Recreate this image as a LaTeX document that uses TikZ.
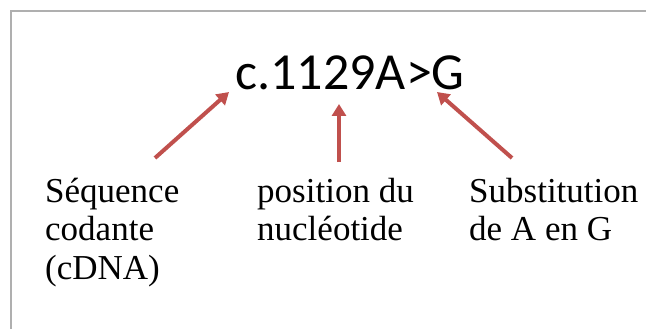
\documentclass[tikz,border=0pt]{standalone}
\usepackage{fontspec}
\setmainfont{Liberation Serif}
\newfontfamily\titlefont{Carlito}
\usetikzlibrary{arrows.meta}
\definecolor{arrowred}{RGB}{192,80,77}
\definecolor{framegray}{RGB}{175,175,175}
\tikzset{
  label/.style={anchor=base west, inner sep=0pt, align=left,
    font=\fontsize{35}{38.5}\selectfont},
  pointer/.style={draw=arrowred, line width=4pt,
    -{Triangle[width=14pt,length=12pt]}},
}
\begin{document}
\begin{tikzpicture}[x=1pt,y=-1pt]
  \useasboundingbox (0,0) rectangle (646,329);
  % open frame: top and left edges only
  \draw[framegray, line width=1.5pt] (646,11) -- (11,11) -- (11,329);
  % notation
  \node[anchor=base, inner sep=0pt, font=\titlefont\fontsize{52}{52}\selectfont]
    (title) at (350,89) {c.1129A>G};
  % explanations (anchored on the baseline of their last line)
  \node[label] (seq) at (45,279) {Séquence\\codante\\(cDNA)};
  \node[label] (pos) at (257,240.5) {position du\\nucléotide};
  \node[label] (sub) at (469,240.5) {Substitution\\de A en G};
  % arrow ends
  \coordinate (seqtail) at (155,158);
  \coordinate (seqtip) at (229,92);
  \coordinate (postail) at (339,162);
  \coordinate (postip) at (339,104);
  \coordinate (subtail) at (512,158);
  \coordinate (subtip) at (437,92);
  \draw[pointer] (seqtail) -- (seqtip);
  \draw[pointer] (postail) -- (postip);
  \draw[pointer] (subtail) -- (subtip);
\end{tikzpicture}
\end{document}
